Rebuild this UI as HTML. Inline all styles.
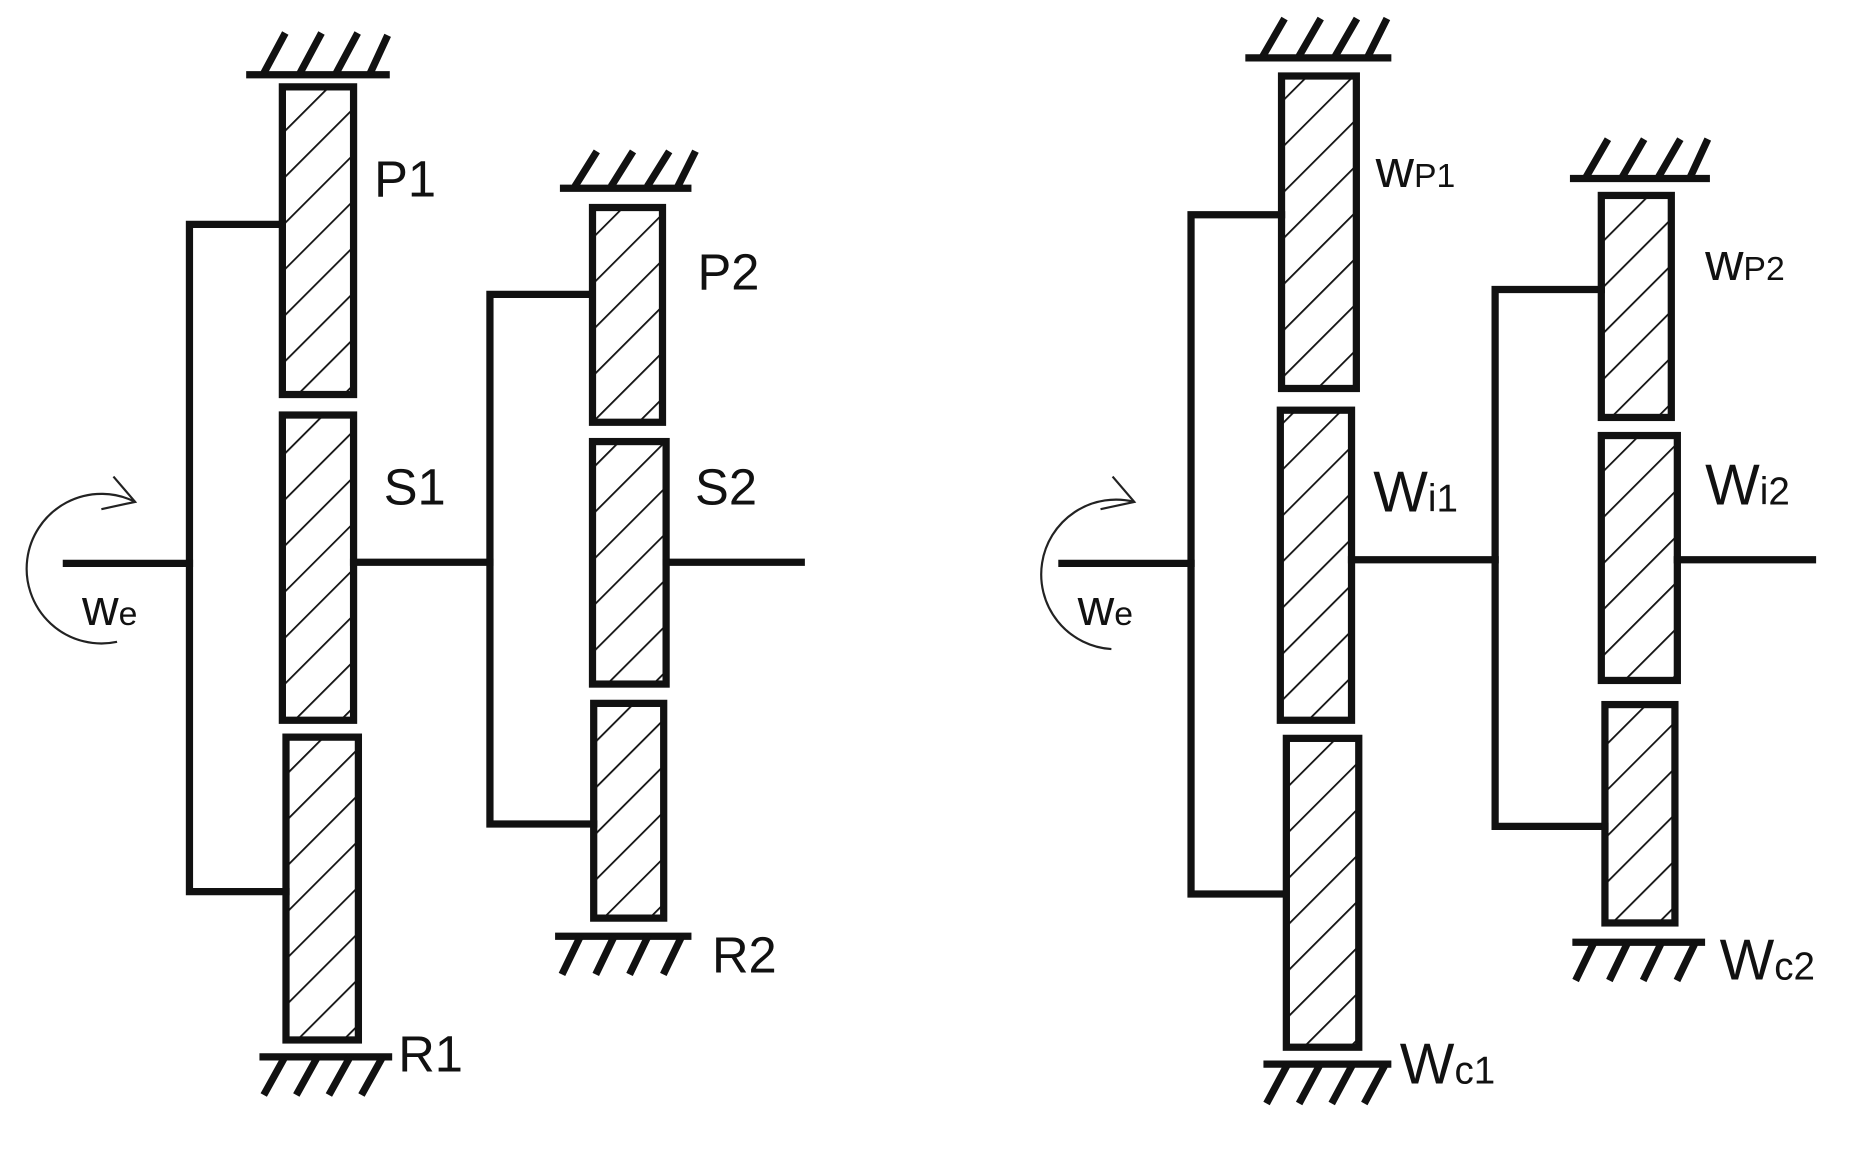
<!DOCTYPE html>
<html><head><meta charset="utf-8"><style>
html,body{margin:0;padding:0;background:#fff;}
svg{display:block;}
text{font-family:"Liberation Sans","DejaVu Sans",sans-serif;fill:#111;}
</style></head><body>
<svg width="1868" height="1157" viewBox="0 0 1548 959" preserveAspectRatio="none" xmlns="http://www.w3.org/2000/svg">
<defs>
<pattern id="h" patternUnits="userSpaceOnUse" width="27" height="27" patternTransform="rotate(45)">
<line x1="0" y1="0" x2="0" y2="27" stroke="#111" stroke-width="3"/>
</pattern>
</defs>
<rect width="1548" height="959" fill="#fff"/>
<g stroke="#111" stroke-width="6" fill="none" stroke-linecap="square">
<line x1="207" y1="62" x2="320" y2="62"/>
<path d="M220 58 L235 30 M250 58 L265 30 M280 58 L295 30 M308 58 L320 32"/>
<line x1="467" y1="156" x2="570" y2="156"/>
<path d="M478 152 L493 128 M508 152 L523 128 M538 152 L553 128 M563 152 L575 128"/>
<line x1="218" y1="876" x2="322" y2="876"/>
<path d="M235 878 L220 905 M262 878 L247 905 M289 878 L274 905 M316 878 L301 905"/>
<line x1="463" y1="776" x2="570" y2="776"/>
<path d="M480 778 L467 805 M508 778 L495 805 M536 778 L523 805 M564 778 L551 805"/>
<polyline points="234,186 157,186 157,739 237,739"/>
<line x1="55" y1="467" x2="157" y2="467"/>
<line x1="293" y1="466" x2="406" y2="466"/>
<polyline points="490,244 406,244 406,683 492,683"/>
<line x1="552" y1="466" x2="664" y2="466"/>
<rect x="234" y="72" width="59" height="255" fill="url(#h)"/>
<rect x="234" y="344" width="59" height="253" fill="url(#h)"/>
<rect x="237" y="611" width="60" height="251" fill="url(#h)"/>
<rect x="491" y="172" width="58" height="178" fill="url(#h)"/>
<rect x="491" y="366" width="61" height="201" fill="url(#h)"/>
<rect x="492" y="583" width="58" height="178" fill="url(#h)"/>

<line x1="1035" y1="48" x2="1150" y2="48"/>
<path d="M1048 44 L1063 18 M1078 44 L1093 18 M1108 44 L1123 18 M1135 44 L1148 18"/>
<line x1="1304" y1="148" x2="1414" y2="148"/>
<path d="M1316 144 L1331 118 M1346 144 L1361 118 M1376 144 L1391 118 M1402 144 L1414 118"/>
<line x1="1050" y1="882" x2="1150" y2="882"/>
<path d="M1066 884 L1051 912 M1093 884 L1078 912 M1120 884 L1105 912 M1147 884 L1132 912"/>
<line x1="1306" y1="781" x2="1410" y2="781"/>
<path d="M1320 783 L1307 810 M1348 783 L1335 810 M1376 783 L1363 810 M1404 783 L1391 810"/>
<polyline points="1062,178 987,178 987,741 1064,741"/>
<line x1="880" y1="467" x2="987" y2="467"/>
<line x1="1120" y1="464" x2="1239" y2="464"/>
<polyline points="1327,240 1239,240 1239,685 1330,685"/>
<line x1="1390" y1="464" x2="1502" y2="464"/>
<rect x="1062" y="63" width="62" height="259" fill="url(#h)"/>
<rect x="1061" y="340" width="59" height="257" fill="url(#h)"/>
<rect x="1066" y="612" width="60" height="256" fill="url(#h)"/>
<rect x="1327" y="162" width="58" height="184" fill="url(#h)"/>
<rect x="1327" y="361" width="63" height="203" fill="url(#h)"/>
<rect x="1330" y="584" width="58" height="181" fill="url(#h)"/>
</g>
<g stroke="#222" stroke-width="1.8" fill="none">
<path d="M97 532 A62 62 0 1 1 112 416"/>
<path d="M94 395 L112 416 L84 422"/>
<path d="M921 538 A62 62 0 1 1 940 416"/>
<path d="M922 395 L940 416 L912 422"/>
</g>
<g font-size="42">
<text x="310" y="163">P1</text>
<text x="318" y="418">S1</text>
<text x="578" y="240">P2</text>
<text x="576" y="418">S2</text>
<text x="590" y="806">R2</text>
<text x="330" y="888">R1</text>
<text x="68" y="518">w<tspan font-size="28">e</tspan></text>
<text x="893" y="518">w<tspan font-size="28">e</tspan></text>
<text x="1140" y="155" font-size="44">w<tspan font-size="28">P1</tspan></text>
<text x="1413" y="232" font-size="44">w<tspan font-size="28">P2</tspan></text>
<text x="1138" y="424" font-size="48">W<tspan font-size="32">i1</tspan></text>
<text x="1413" y="418" font-size="48">W<tspan font-size="32">i2</tspan></text>
<text x="1425" y="812" font-size="48">W<tspan font-size="32">c2</tspan></text>
<text x="1160" y="898" font-size="48">W<tspan font-size="32">c1</tspan></text>
</g>
</svg>
</body></html>
